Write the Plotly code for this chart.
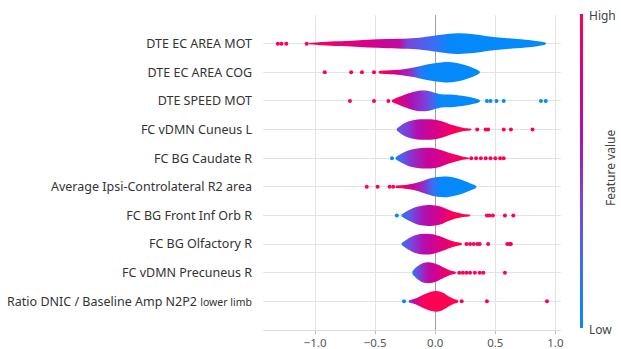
import plotly.graph_objects as go
from plotly.colors import sample_colorscale

features = [
    "DTE EC AREA MOT",
    "DTE EC AREA COG",
    "DTE SPEED MOT",
    "FC vDMN Cuneus L",
    "FC BG Caudate R",
    "Average Ipsi-Controlateral R2 area",
    "FC BG Front Inf Orb R",
    "FC BG Olfactory R",
    "FC vDMN Precuneus R",
    "Ratio DNIC / Baseline Amp N2P2 <span style='font-size:10.5px'>lower limb</span>",
]

# violin density profiles (SHAP value knots, relative density)
dens_x = [
    [-1.05, -0.87, -0.7, -0.56, -0.4, -0.23, -0.1, 0.05, 0.18, 0.32, 0.45, 0.6, 0.75, 0.86, 0.92],
    [-0.47, -0.38, -0.28, -0.17, -0.07, 0.03, 0.10, 0.18, 0.26, 0.32, 0.37],
    [-0.36, -0.3, -0.22, -0.15, -0.08, -0.02, 0.05, 0.15, 0.25, 0.32, 0.37],
    [-0.32, -0.28, -0.22, -0.15, -0.08, 0.0, 0.06, 0.12, 0.18, 0.24, 0.3],
    [-0.33, -0.28, -0.22, -0.15, -0.08, 0.0, 0.06, 0.12, 0.18, 0.23, 0.28],
    [-0.33, -0.25, -0.18, -0.1, -0.02, 0.05, 0.1, 0.17, 0.24, 0.3, 0.34],
    [-0.28, -0.23, -0.16, -0.08, -0.02, 0.05, 0.11, 0.17, 0.23, 0.29],
    [-0.28, -0.23, -0.16, -0.09, -0.02, 0.05, 0.11, 0.17, 0.22],
    [-0.19, -0.15, -0.1, -0.04, 0.02, 0.08, 0.13, 0.17],
    [-0.22, -0.16, -0.1, -0.04, 0.01, 0.06, 0.11, 0.15, 0.19],
]
dens_d = [
    [0.06, 0.2, 0.28, 0.38, 0.44, 0.5, 0.62, 0.85, 1.0, 0.92, 0.7, 0.52, 0.38, 0.22, 0.06],
    [0.12, 0.2, 0.28, 0.48, 0.75, 0.93, 1.0, 0.9, 0.65, 0.4, 0.08],
    [0.1, 0.4, 0.75, 0.97, 1.0, 0.85, 0.65, 0.6, 0.45, 0.28, 0.08],
    [0.1, 0.45, 0.8, 0.97, 1.0, 0.95, 0.78, 0.52, 0.32, 0.15, 0.05],
    [0.1, 0.45, 0.78, 0.95, 1.0, 0.95, 0.75, 0.5, 0.3, 0.15, 0.05],
    [0.12, 0.18, 0.32, 0.6, 0.88, 0.98, 1.0, 0.85, 0.6, 0.3, 0.08],
    [0.1, 0.45, 0.82, 1.0, 1.0, 0.85, 0.55, 0.3, 0.15, 0.05],
    [0.1, 0.5, 0.88, 1.0, 0.95, 0.7, 0.42, 0.2, 0.07],
    [0.15, 0.6, 0.95, 1.0, 0.8, 0.45, 0.2, 0.08],
    [0.1, 0.3, 0.65, 0.92, 1.0, 0.85, 0.5, 0.25, 0.08],
]

# feature value (0 = low, 1 = high) along each violin
col_x = [
    [-1.05, -0.85, -0.56, -0.3, -0.23, 0.0, 0.12, 0.92],
    [-0.47, -0.4, -0.33, -0.21, -0.13, -0.05, 0.37],
    [-0.36, -0.3, -0.2, -0.1, -0.02, 0.03, 0.37],
    [-0.32, -0.22, -0.15, -0.05, 0.05, 0.18, 0.3],
    [-0.33, -0.27, -0.19, -0.07, 0.05, 0.18, 0.28],
    [-0.33, -0.27, -0.2, -0.1, -0.02, 0.04, 0.34],
    [-0.28, -0.2, -0.1, 0.0, 0.08, 0.15, 0.29],
    [-0.28, -0.2, -0.1, -0.02, 0.08, 0.17, 0.22],
    [-0.19, -0.12, -0.05, 0.02, 0.1, 0.17],
    [-0.22, -0.18, -0.13, -0.05, 0.03, 0.19],
]
col_v = [
    [1.0, 0.9, 0.8, 0.7, 0.4, 0.18, 0.02, 0.0],
    [1.0, 0.92, 0.8, 0.5, 0.15, 0.02, 0.0],
    [1.0, 0.85, 0.6, 0.45, 0.25, 0.03, 0.0],
    [0.3, 0.45, 0.62, 0.76, 0.85, 1.0, 1.0],
    [0.05, 0.3, 0.5, 0.72, 0.82, 0.95, 1.0],
    [1.0, 0.95, 0.8, 0.5, 0.2, 0.02, 0.0],
    [0.1, 0.35, 0.6, 0.75, 0.88, 1.0, 1.0],
    [0.15, 0.4, 0.62, 0.76, 0.88, 1.0, 1.0],
    [0.1, 0.45, 0.7, 0.8, 0.92, 0.97],
    [0.3, 0.65, 0.9, 1.0, 1.0, 1.0],
]

# outlier points
pts_x = [
    [-1.31, -1.28, -1.24, -1.07],
    [-0.92, -0.70, -0.61, -0.51],
    [-0.71, -0.51, -0.39, 0.43, 0.46, 0.51, 0.57, 0.88, 0.92],
    [0.35, 0.42, 0.44, 0.57, 0.63, 0.81],
    [-0.36, 0.30, 0.34, 0.38, 0.42, 0.46, 0.50, 0.54, 0.57],
    [-0.57, -0.48, -0.38, -0.35],
    [-0.32, 0.43, 0.45, 0.48, 0.58, 0.65],
    [0.26, 0.29, 0.32, 0.35, 0.37, 0.44, 0.60, 0.62, 0.63],
    [0.20, 0.23, 0.26, 0.29, 0.33, 0.37, 0.40, 0.58],
    [-0.26, 0.22, 0.43, 0.93],
]
pts_v = [
    [1, 1, 1, 1],
    [1, 1, 1, 1],
    [1, 1, 1, 0, 0, 0, 0, 0, 0],
    [1, 1, 1, 1, 1, 1],
    [0, 1, 1, 1, 1, 1, 1, 1, 1],
    [1, 1, 1, 1],
    [0, 1, 1, 1, 1, 1],
    [1, 1, 1, 1, 1, 1, 1, 1, 1],
    [1, 1, 1, 1, 1, 1, 1, 1],
    [0.05, 1, 1, 1],
]

x_ticks = [-1.0, -0.5, 0.0, 0.5, 1.0]
x_ticktext = ["\u22121.0", "\u22120.5", "0.0", "0.5", "1.0"]
cbar_vals = [0.0, 1.0]
cbar_labels = ["Low", "High"]

CSCALE = [[0.0, "#008bfb"], [0.2, "#3a6ef5"], [0.4, "#7b45dc"],
          [0.6, "#ac12b4"], [0.8, "#d6008c"], [1.0, "#ff0052"]]
MAXHW = 0.36

n = len(features)
fig = go.Figure()

for i in range(n):
    row = n - 1 - i
    xs = dens_x[i]
    hw = [d * MAXHW for d in dens_d[i]]
    px = xs + xs[::-1]
    py = [row + h for h in hw] + [row - h for h in hw[::-1]]
    x0, x1 = xs[0], xs[-1]
    stops = []
    for cx, cv in zip(col_x[i], col_v[i]):
        pos = min(max((cx - x0) / (x1 - x0), 0.0), 1.0)
        stops.append([pos, sample_colorscale(CSCALE, [cv])[0]])
    fig.add_trace(go.Scatter(
        x=px, y=py, mode="lines", line=dict(width=0, shape="spline", smoothing=1.0),
        fill="toself",
        fillgradient=dict(type="horizontal", colorscale=stops, start=x0, stop=x1),
        hoverinfo="skip", showlegend=False,
    ))

all_x, all_y, all_v = [], [], []
for i in range(n):
    row = n - 1 - i
    all_x += pts_x[i]
    all_y += [row] * len(pts_x[i])
    all_v += pts_v[i]

fig.add_trace(go.Scatter(
    x=all_x, y=all_y, mode="markers",
    marker=dict(size=4, color=all_v, colorscale=CSCALE, cmin=0, cmax=1,
                showscale=True,
                colorbar=dict(
                    xref="container", x=580 / 621, xanchor="left", xpad=0,
                    yref="container", y=1 - 15 / 349, yanchor="top", ypad=0,
                    lenmode="pixels", len=314, thickness=3,
                    outlinewidth=0, showticklabels=False, ticks="",
                )),
    hoverinfo="skip", showlegend=False,
))

# colorbar end labels
for v, lab in zip(cbar_vals, cbar_labels):
    fig.add_annotation(
        text=lab, xref="paper", yref="paper", x=(587 - 263) / 298,
        y=(330 - (329 - v * 313)) / 315, xanchor="left", yanchor="middle",
        showarrow=False, font=dict(size=12, color="#444", family="Noto Sans"),
    )

fig.add_annotation(
    text="Feature value", textangle=-90, xref="paper", yref="paper",
    x=(610 - 263) / 298, y=(330 - 168) / 315, xanchor="center", yanchor="middle",
    showarrow=False, font=dict(size=12, color="#444", family="Noto Sans"),
)

fig.update_layout(
    width=621, height=349,
    margin=dict(l=263, r=60, t=15, b=19, autoexpand=False),
    paper_bgcolor="white", plot_bgcolor="white",
    font=dict(family="Noto Sans", color="#333"),
)
fig.update_xaxes(
    range=[-1.434, 1.047], tickvals=x_ticks, ticktext=x_ticktext,
    showgrid=True, gridcolor="#e3e3e3", gridwidth=1,
    zeroline=True, zerolinecolor="#a0a0a0", zerolinewidth=1,
    showline=True, linecolor="#dcdcdc", linewidth=1,
    ticks="outside", ticklen=3, tickcolor="#bbb", ticklabelstandoff=-1,
    tickfont=dict(size=11.5, color="#555"), automargin=False,
)
fig.update_yaxes(
    range=[-1, 10], tickvals=list(range(n)), ticktext=features[::-1],
    showgrid=True, gridcolor="#e3e3e3", gridwidth=1, zeroline=False,
    ticks="", ticklabelstandoff=10, automargin=False,
    tickfont=dict(size=12.5, color="#333"),
)

fig.write_html("out.html")
